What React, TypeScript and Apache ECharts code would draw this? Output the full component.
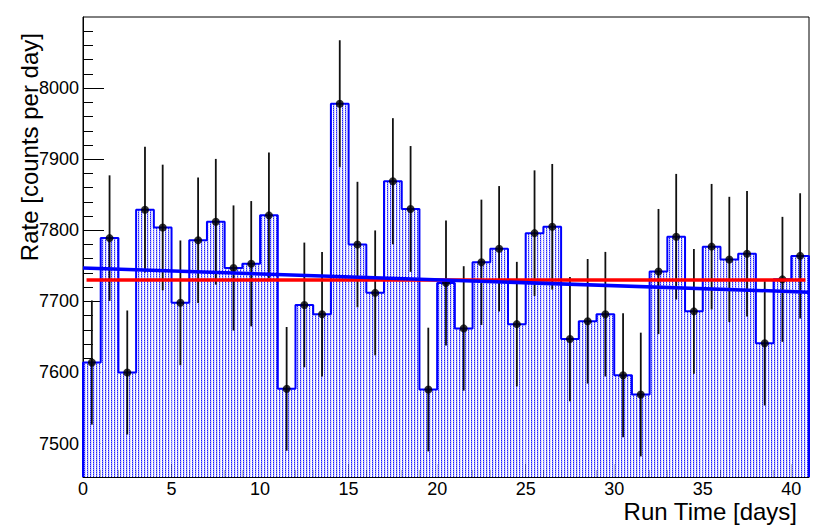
import React, { useEffect, useRef } from "react";
import * as echarts from "echarts";

// ---- data ----
const rates = [
  7614, 7789, 7600, 7829, 7804, 7698, 7786, 7812, 7747, 7753, 7821, 7577, 7695, 7682,
  7978, 7780, 7712, 7869, 7830, 7576, 7726, 7662, 7755, 7774, 7668, 7796, 7805, 7647,
  7672, 7682, 7596, 7569, 7742, 7791, 7686, 7777, 7759, 7767, 7641, 7731, 7764,
];
const rateErrors = [
  87.3, 88.3, 87.2, 88.5, 88.3, 87.7, 88.2, 88.4, 88.0, 88.1, 88.4, 87.0, 87.7, 87.6,
  89.3, 88.2, 87.8, 88.7, 88.5, 87.0, 87.9, 87.5, 88.1, 88.2, 87.6, 88.3, 88.3, 87.4,
  87.6, 87.6, 87.2, 87.0, 88.0, 88.3, 87.7, 88.2, 88.1, 88.1, 87.4, 87.9, 88.1,
];
const binStart = 0;
const binWidth = 1;

const constFitValue = 7730;
const constFitRange = [0.2, 40.8];
const linearFitStart = [0, 7747];
const linearFitEnd = [41, 7713];

const xRange = [0, 41];
const yRange = [7453, 8100];
const xMajorTicks = [0, 5, 10, 15, 20, 25, 30, 35, 40];
const xMinorTicks = [
  1, 2, 3, 4, 6, 7, 8, 9, 11, 12, 13, 14, 16, 17, 18, 19, 21, 22, 23, 24, 26, 27, 28, 29,
  31, 32, 33, 34, 36, 37, 38, 39,
];
const yMajorTicks = [7500, 7600, 7700, 7800, 7900, 8000];
const yMinorTicks = [
  7460, 7480, 7520, 7540, 7560, 7580, 7620, 7640, 7660, 7680, 7720, 7740, 7760, 7780,
  7820, 7840, 7860, 7880, 7920, 7940, 7960, 7980, 8020, 8040, 8060, 8080,
];

const xTitle = "Run Time [days]";
const yTitle = "Rate [counts per day]";

function makePattern(): HTMLCanvasElement {
  const c = document.createElement("canvas");
  c.width = 3;
  c.height = 2;
  const ctx = c.getContext("2d")!;
  ctx.fillStyle = "#ffffff";
  ctx.fillRect(0, 0, 3, 2);
  ctx.fillStyle = "#2020ff";
  ctx.fillRect(0, 0, 1, 1);
  ctx.fillStyle = "#9090ff";
  ctx.fillRect(0, 1, 1, 1);
  ctx.fillStyle = "#d0d0ff";
  ctx.fillRect(1, 1, 1, 1);
  ctx.fillStyle = "#e8e8ff";
  ctx.fillRect(1, 0, 1, 1);
  return c;
}

const FONT = "'Liberation Sans', Arial, Helvetica, sans-serif";

export default function App() {
  const ref = useRef<HTMLDivElement>(null);

  useEffect(() => {
    if (!ref.current) return;
    const chart = echarts.init(ref.current, undefined, { renderer: "svg" });
    const pattern = { image: makePattern(), repeat: "repeat" };

    const bins = rates.map((v, i) => [
      binStart + i * binWidth,
      binStart + (i + 1) * binWidth,
      v,
    ]);
    const outline: number[][] = [[xRange[0], yRange[0]]];
    rates.forEach((v, i) => {
      outline.push([binStart + i * binWidth, v]);
      outline.push([binStart + (i + 1) * binWidth, v]);
    });
    outline.push([binStart + rates.length * binWidth, yRange[0]]);
    const points = rates.map((v, i) => [binStart + (i + 0.5) * binWidth, v]);
    const errs = rates.map((v, i) => [binStart + (i + 0.5) * binWidth, v - rateErrors[i], v + rateErrors[i]]);

    const labelStyle = { color: "#000", fontFamily: FONT, fontSize: 18 };
    const fmt = (v: number) => String(v);

    const option: any = {
      animation: false,
      backgroundColor: "#ffffff",
      grid: {
        left: 83,
        right: 21,
        top: 17,
        bottom: 55,
        show: true,
        borderColor: "#000",
        borderWidth: 1,
        backgroundColor: "transparent",
        outerBoundsMode: "none",
      },
      xAxis: [
        {
          type: "value",
          position: "bottom",
          min: xRange[0],
          max: xRange[1],
          axisLine: { show: true, onZero: false, lineStyle: { color: "#000", width: 1 } },
          axisTick: { show: true, inside: true, length: 13, customValues: xMajorTicks, lineStyle: { color: "#000", width: 1 } },
          axisLabel: { show: true, customValues: xMajorTicks, formatter: fmt, margin: 3, ...labelStyle },
          splitLine: { show: false },
        },
        {
          type: "value",
          position: "bottom",
          min: xRange[0],
          max: xRange[1],
          axisLine: { show: false },
          axisTick: { show: true, inside: true, length: 7, customValues: xMinorTicks, lineStyle: { color: "#000", width: 1 } },
          axisLabel: { show: false },
          splitLine: { show: false },
        },
      ],
      yAxis: [
        {
          type: "value",
          position: "left",
          min: yRange[0],
          max: yRange[1],
          axisLine: { show: true, onZero: false, lineStyle: { color: "#000", width: 1 } },
          axisTick: { show: true, inside: true, length: 21, customValues: yMajorTicks, lineStyle: { color: "#000", width: 1 } },
          axisLabel: { show: true, customValues: yMajorTicks, formatter: fmt, margin: 4, ...labelStyle },
          splitLine: { show: false },
        },
        {
          type: "value",
          position: "left",
          min: yRange[0],
          max: yRange[1],
          axisLine: { show: false },
          axisTick: { show: true, inside: true, length: 10, customValues: yMinorTicks, lineStyle: { color: "#000", width: 1 } },
          axisLabel: { show: false },
          splitLine: { show: false },
        },
      ],
      series: [
        {
          type: "custom",
          name: "fill",
          xAxisIndex: 0,
          yAxisIndex: 0,
          z: 1,
          clip: true,
          encode: { x: [0, 1], y: 2 },
          data: bins,
          renderItem: (params: any, api: any) => {
            const lo = api.coord([api.value(0), yRange[0]]);
            const hi = api.coord([api.value(1), api.value(2)]);
            return {
              type: "rect",
              shape: { x: lo[0], y: hi[1], width: hi[0] - lo[0], height: lo[1] - hi[1] },
              style: { fill: pattern, stroke: null },
            };
          },
        },
        {
          type: "line",
          name: "outline",
          xAxisIndex: 0,
          yAxisIndex: 0,
          z: 2,
          data: outline,
          showSymbol: false,
          symbol: "none",
          lineStyle: { color: "#0000ff", width: 2 },
        },
        {
          type: "custom",
          name: "errors",
          xAxisIndex: 0,
          yAxisIndex: 0,
          z: 3,
          encode: { x: 0, y: [1, 2] },
          data: errs,
          renderItem: (params: any, api: any) => {
            const a = api.coord([api.value(0), api.value(1)]);
            const b = api.coord([api.value(0), api.value(2)]);
            return {
              type: "line",
              shape: { x1: a[0], y1: a[1], x2: b[0], y2: b[1] },
              style: { stroke: "#111", lineWidth: 1.8 },
            };
          },
        },
        {
          type: "scatter",
          name: "points",
          xAxisIndex: 0,
          yAxisIndex: 0,
          z: 4,
          symbol: "circle",
          symbolSize: 8,
          itemStyle: { color: "#000" },
          data: points,
        },
        {
          type: "line",
          name: "constFit",
          xAxisIndex: 0,
          yAxisIndex: 0,
          z: 5,
          showSymbol: false,
          symbol: "none",
          lineStyle: { color: "#ff0000", width: 3.5 },
          data: [
            [constFitRange[0], constFitValue],
            [constFitRange[1], constFitValue],
          ],
        },
        {
          type: "line",
          name: "linearFit",
          xAxisIndex: 0,
          yAxisIndex: 0,
          z: 6,
          showSymbol: false,
          symbol: "none",
          lineStyle: { color: "#0000ff", width: 3.5 },
          data: [linearFitStart, linearFitEnd],
        },
      ],
      graphic: [
        {
          type: "text",
          x: 29,
          y: 33,
          rotation: Math.PI / 2,
          style: {
            text: yTitle,
            align: "right",
            verticalAlign: "middle",
            fill: "#000",
            font: `24px ${FONT}`,
          },
        },
        {
          type: "text",
          x: 797,
          y: 511,
          style: {
            text: xTitle,
            align: "right",
            verticalAlign: "middle",
            fill: "#000",
            font: `24px ${FONT}`,
          },
        },
      ],
    };

    chart.setOption(option);
    return () => chart.dispose();
  }, []);

  return (
    <div
      ref={ref}
      style={{ position: "fixed", left: 0, top: 0, width: 830, height: 532, background: "#fff" }}
    />
  );
}
